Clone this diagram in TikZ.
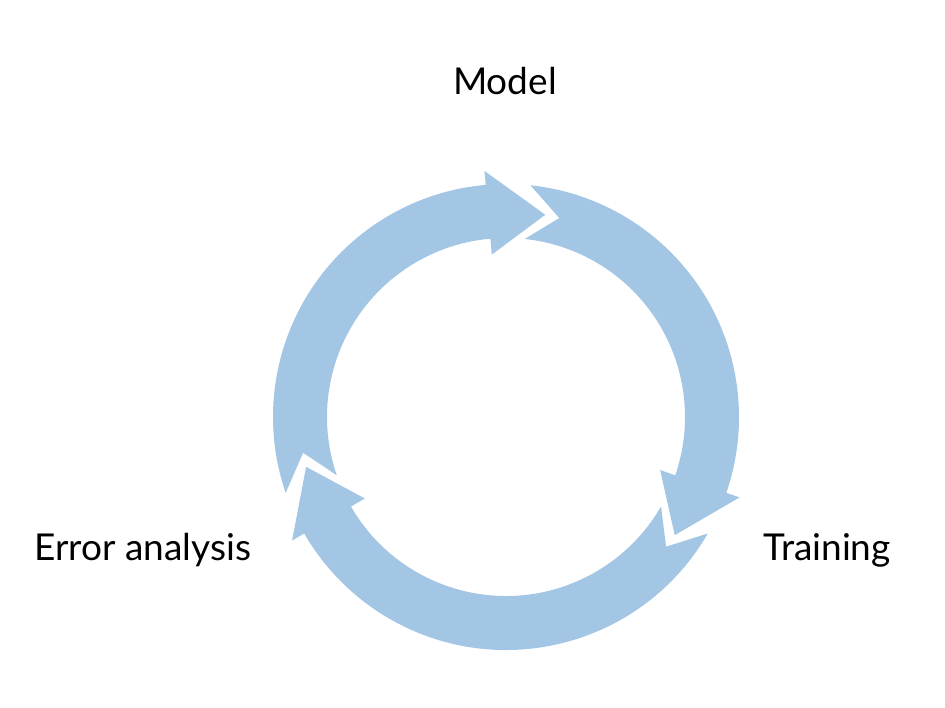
\documentclass[tikz,border=0pt]{standalone}
\usepackage{fontspec}
\setmainfont{Lato}
\definecolor{cycleblue}{RGB}{163,198,229}

\begin{document}
\begin{tikzpicture}[x=1pt, y=1pt, stagename/.style = {font=\fontsize{37}{44}\selectfont, anchor=base}, cyclearrow/.style = {fill=cycleblue}]
    \useasboundingbox (0,0) rectangle (945,708);
    \coordinate (c) at (506,291);
    % three arrows: tail angle / tip angle
    \foreach \tail/\tip in {199/79, 84/-35, 330/194}
        \fill[cyclearrow, shift={(c)}] (\tail:233) arc[start angle=\tail, end angle=\tip+16, radius=233]
        -- ({\tip+16}:247) -- (\tip:206) -- ({\tip+16}:163) -- ({\tip+16}:179)
        arc[start angle=\tip+16, end angle=\tail, radius=179] -- ({\tail-9}:206) -- cycle;
    \node[stagename] (model) at (505,613) {Model};
    \node[stagename] (error) at (143,147) {Error analysis};
    \node[stagename] (training) at (827,147) {Training};
\end{tikzpicture}
\end{document}
